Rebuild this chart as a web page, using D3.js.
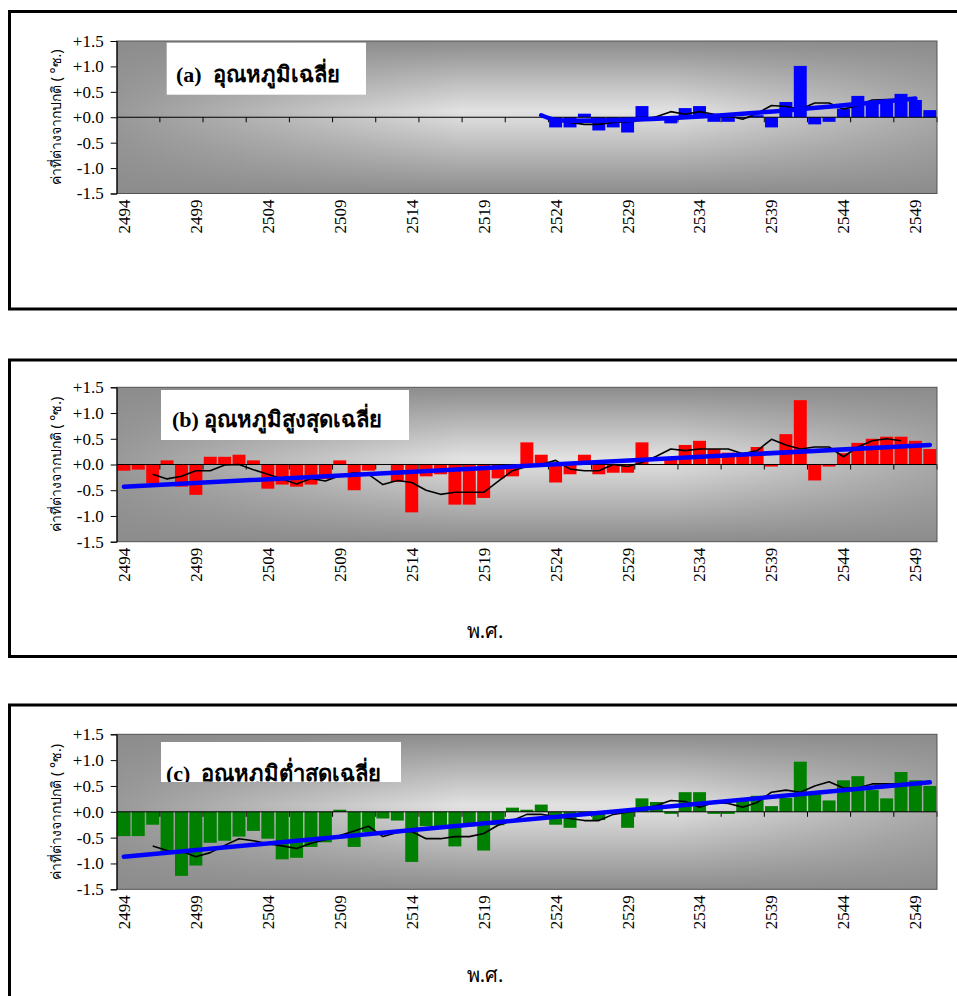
<!DOCTYPE html>
<html><head><meta charset="utf-8">
<script src="https://cdn.jsdelivr.net/npm/d3@7/dist/d3.min.js"></script>
<style>
body{margin:0;background:#fff;}
svg{display:block;}
text{white-space:pre;}
</style>
</head><body>
<svg id="chart" width="957" height="996"></svg>
<script>
// ---------------- DATA ----------------
const years = [2494,2495,2496,2497,2498,2499,2500,2501,2502,2503,2504,2505,2506,2507,2508,2509,2510,2511,2512,2513,
  2514,2515,2516,2517,2518,2519,2520,2521,2522,2523,2524,2525,2526,2527,2528,2529,2530,2531,2532,2533,
  2534,2535,2536,2537,2538,2539,2540,2541,2542,2543,2544,2545,2546,2547,2548,2549,2550];
const xTickLabels = ["2494","2499","2504","2509","2514","2519","2524","2529","2534","2539","2544","2549"];
const yTickValues = [1.5,1.0,0.5,0.0,-0.5,-1.0,-1.5];
const yTickLabels = ["+1.5","+1.0","+0.5","+0.0","-0.5","-1.0","-1.5"];

// (a) mean temperature anomaly
const meanAnomaly = [null,null,null,null,null,null,null,null,null,null,null,null,null,null,null,null,null,null,null,null,
  null,null,null,null,null,null,null,null,null,null,-0.20,-0.20,0.07,-0.26,-0.20,-0.30,0.22,0.01,-0.12,0.18,
  0.22,-0.09,-0.09,-0.02,0.04,-0.20,0.30,1.01,-0.14,-0.09,0.17,0.42,0.29,0.29,0.46,0.34,0.14];
const meanSmooth = [null,null,null,null,null,null,null,null,null,null,null,null,null,null,null,null,null,null,null,null,
  null,null,null,null,null,null,null,null,null,null,-0.06,-0.10,-0.14,-0.14,-0.10,-0.09,-0.06,0.01,0.11,0.06,
  0.11,0.06,0.03,-0.04,0.08,0.23,0.21,0.16,0.28,0.28,0.16,0.23,0.34,0.35,0.35,0.35,null];
const meanTrendYears = [2523,2524,2525,2549];
const meanTrendValues = [0.04,-0.05,-0.07,0.37];

// (b) maximum temperature anomaly
const maxAnomaly = [-0.12,-0.10,-0.36,0.08,-0.43,-0.59,0.15,0.15,0.19,0.08,-0.47,-0.39,-0.43,-0.39,-0.28,0.08,-0.50,-0.12,-0.01,-0.34,
  -0.93,-0.23,-0.19,-0.78,-0.78,-0.65,-0.27,-0.23,0.43,0.19,-0.35,-0.19,0.19,-0.19,-0.16,-0.16,0.43,0.01,0.10,0.38,
  0.46,0.30,0.23,0.23,0.34,-0.04,0.59,1.25,-0.31,-0.04,0.22,0.42,0.50,0.54,0.54,0.46,0.30];
const maxSmooth = [null,null,-0.19,-0.28,-0.23,-0.12,-0.12,-0.01,0.00,-0.10,-0.19,-0.28,-0.38,-0.27,-0.32,-0.22,-0.16,-0.19,-0.39,-0.31,
  -0.35,-0.50,-0.58,-0.54,-0.54,-0.54,-0.33,-0.12,-0.04,0.00,0.08,-0.09,-0.12,-0.12,0.00,-0.04,0.04,0.16,0.30,0.27,
  0.30,0.30,0.30,0.21,0.27,0.49,0.38,0.30,0.34,0.34,0.15,0.34,0.46,0.50,0.46,null,null];
const maxTrendYears = [2494,2550];
const maxTrendValues = [-0.43,0.38];

// (c) minimum temperature anomaly
const minAnomaly = [-0.47,-0.47,-0.25,-0.77,-1.24,-1.04,-0.60,-0.56,-0.48,-0.37,-0.52,-0.92,-0.89,-0.68,-0.59,0.04,-0.68,-0.39,-0.13,-0.17,
  -0.97,-0.28,-0.28,-0.67,-0.28,-0.75,-0.26,0.08,0.04,0.14,-0.25,-0.31,-0.07,-0.16,-0.01,-0.31,0.26,0.19,-0.04,0.38,
  0.38,-0.04,-0.04,0.25,0.31,0.11,0.27,0.97,0.34,0.22,0.61,0.69,0.42,0.26,0.77,0.61,0.50];
const minSmooth = [null,null,-0.66,-0.75,-0.76,-0.87,-0.79,-0.65,-0.52,-0.56,-0.62,-0.66,-0.71,-0.61,-0.54,-0.46,-0.37,-0.28,-0.48,-0.40,
  -0.38,-0.52,-0.52,-0.48,-0.48,-0.42,-0.26,-0.17,-0.05,-0.05,-0.09,-0.13,-0.17,-0.17,-0.05,-0.01,0.04,0.12,0.22,0.20,
  0.09,0.18,0.16,0.09,0.18,0.38,0.42,0.38,0.50,0.58,0.46,0.46,0.54,0.54,0.54,null,null];
const minTrendYears = [2494,2550];
const minTrendValues = [-0.87,0.57];

const panelTitles = ["(a)  อุณหภูมิเฉลี่ย","(b) อุณหภูมิสูงสุดเฉลี่ย","(c)  อุณหภูมิต่ำสุดเฉลี่ย"];
const panelColors = ["#0000ff","#ff0000","#008000"];
const yTitle = "ค่าที่ต่างจากปกติ ( °ซ.)";
const xTitle = "พ.ศ.";

// ---------------- LAYOUT ----------------
const svg = d3.select("#chart");
const plotLeft = 116.7, plotRight = 937;
const layouts = [
  {boxTop:11.5, boxBottom:309, plotTop:41, plotBottom:193.5, title:{x:166.7,y:42.7,w:199.3,h:52,tx:176,ty:82}, xTitle:false},
  {boxTop:360, boxBottom:656.5, plotTop:387.3, plotBottom:541.7, title:{x:161,y:390,w:248,h:50,tx:172,ty:427}, xTitle:true, xTitleY:638},
  {boxTop:705, boxBottom:1010, plotTop:734.3, plotBottom:889.3, title:{x:161,y:742,w:240,h:40,tx:166,ty:781}, xTitle:true, xTitleY:982}
];
const series = [
  {bars:meanAnomaly, smooth:meanSmooth, trendX:meanTrendYears, trendY:meanTrendValues},
  {bars:maxAnomaly, smooth:maxSmooth, trendX:maxTrendYears, trendY:maxTrendValues},
  {bars:minAnomaly, smooth:minSmooth, trendX:minTrendYears, trendY:minTrendValues}
];

const defs = svg.append("defs");
const vg = defs.append("linearGradient").attr("id","vgrad").attr("x1",0).attr("y1",0).attr("x2",0).attr("y2",1);
[[0,"#8c8c8c"],[0.46,"#e2e2e2"],[1,"#8c8c8c"]].forEach(s=>vg.append("stop").attr("offset",s[0]).attr("stop-color",s[1]));
const hg = defs.append("linearGradient").attr("id","hgrad").attr("x1",0).attr("y1",0).attr("x2",1).attr("y2",0);
[[0,0.85],[0.42,0],[0.68,0],[1,0.65]].forEach(s=>hg.append("stop").attr("offset",s[0]).attr("stop-color","#8c8c8c").attr("stop-opacity",s[1]));

const serif = "'Liberation Serif','Times New Roman',serif";

layouts.forEach((L, p) => {
  const g = svg.append("g");
  const S = series[p];
  const x = d3.scaleBand().domain(years).range([plotLeft, plotRight]).paddingInner(0.1).paddingOuter(0.05);
  const y = d3.scaleLinear().domain([-1.5, 1.5]).range([L.plotBottom, L.plotTop]);
  const cx = d => x(d) + x.bandwidth()/2;

  // outer frame
  g.append("rect").attr("x",9.5).attr("y",L.boxTop).attr("width",990).attr("height",L.boxBottom-L.boxTop)
    .attr("fill","#fff").attr("stroke","#000").attr("stroke-width",3);

  // plot background
  g.append("rect").attr("x",plotLeft).attr("y",L.plotTop).attr("width",plotRight-plotLeft).attr("height",L.plotBottom-L.plotTop)
    .attr("fill","url(#vgrad)");
  g.append("rect").attr("x",plotLeft).attr("y",L.plotTop).attr("width",plotRight-plotLeft).attr("height",L.plotBottom-L.plotTop)
    .attr("fill","url(#hgrad)");

  // bars
  const barData = years.map((yr,i)=>({yr, v:S.bars[i]})).filter(d=>d.v!==null);
  g.append("g").selectAll("rect").data(barData).join("rect")
    .attr("x", d=>x(d.yr)).attr("width", x.bandwidth())
    .attr("y", d=>y(Math.max(0,d.v))).attr("height", d=>Math.abs(y(d.v)-y(0)))
    .attr("fill", panelColors[p]);

  // category axis at zero with ticks every 3 categories
  g.append("line").attr("x1",plotLeft).attr("x2",plotRight).attr("y1",y(0)).attr("y2",y(0)).attr("stroke","#000").attr("stroke-width",1);
  const tickIdx = years.map((d,i)=>i).filter(i=>i>0 && i%3===0).concat([years.length]);
  g.append("g").selectAll("line").data(tickIdx).join("line")
    .attr("x1", i=>plotLeft + i*x.step()).attr("x2", i=>plotLeft + i*x.step())
    .attr("y1", y(0)).attr("y2", y(0)+5).attr("stroke","#000").attr("stroke-width",1);

  // smoothed line
  const smoothData = years.map((yr,i)=>({yr, v:S.smooth[i]})).filter(d=>d.v!==null);
  g.append("path").datum(smoothData)
    .attr("d", d3.line().x(d=>cx(d.yr)).y(d=>y(d.v)))
    .attr("fill","none").attr("stroke","#000").attr("stroke-width",1.6).attr("stroke-linejoin","round");

  // trend line
  const trendData = S.trendX.map((yr,i)=>({yr, v:S.trendY[i]}));
  g.append("path").datum(trendData)
    .attr("d", d3.line().curve(d3.curveMonotoneX).x(d=>cx(d.yr)).y(d=>y(d.v)))
    .attr("fill","none").attr("stroke","#0000ff").attr("stroke-width",4.5).attr("stroke-linecap","round");

  // plot border
  g.append("rect").attr("x",plotLeft).attr("y",L.plotTop).attr("width",plotRight-plotLeft).attr("height",L.plotBottom-L.plotTop)
    .attr("fill","none").attr("stroke","#555").attr("stroke-width",1);

  // y axis
  const yAxis = d3.axisLeft(y).tickValues(yTickValues).tickSize(6).tickPadding(7)
    .tickFormat((d,i)=>yTickLabels[i]);
  const ya = g.append("g").attr("transform",`translate(${plotLeft},0)`).call(yAxis);
  ya.attr("font-family",serif).attr("font-size",17);
  ya.select(".domain").attr("stroke","#000");
  ya.selectAll("line").attr("stroke","#000");
  ya.selectAll("text").attr("font-family",serif).attr("font-size",17).attr("fill","#000");

  // x tick labels (rotated)
  g.append("g").selectAll("text").data(xTickLabels).join("text")
    .attr("transform", d=>`translate(${cx(+d)},${L.plotBottom+6}) rotate(-90)`)
    .attr("text-anchor","end").attr("dy","0.35em")
    .attr("font-family",serif).attr("font-size",17).attr("fill","#000")
    .text(d=>d);

  // y title
  g.append("text")
    .attr("transform",`translate(56,${(L.plotTop+L.plotBottom)/2}) rotate(-90)`)
    .attr("text-anchor","middle").attr("dy","0.35em")
    .attr("font-family","'Noto Sans','DejaVu Sans',sans-serif").attr("font-size",14).attr("fill","#000")
    .text(yTitle);

  // x title
  if (L.xTitle) {
    g.append("text").attr("x",485).attr("y",L.xTitleY).attr("text-anchor","middle")
      .attr("font-family","'Noto Sans','DejaVu Sans',sans-serif").attr("font-size",20).attr("fill","#000")
      .text(xTitle);
  }

  // title box
  const T = L.title;
  const clipId = "clip"+p;
  defs.append("clipPath").attr("id",clipId).append("rect").attr("x",T.x).attr("y",T.y).attr("width",T.w).attr("height",T.h);
  g.append("rect").attr("x",T.x).attr("y",T.y).attr("width",T.w).attr("height",T.h).attr("fill","#fff");
  g.append("text").attr("x",T.tx).attr("y",T.ty).attr("clip-path",`url(#${clipId})`)
    .attr("font-family",serif).attr("font-weight","bold").attr("font-size",22).attr("fill","#000")
    .text(panelTitles[p]);
});
</script>
</body></html>
